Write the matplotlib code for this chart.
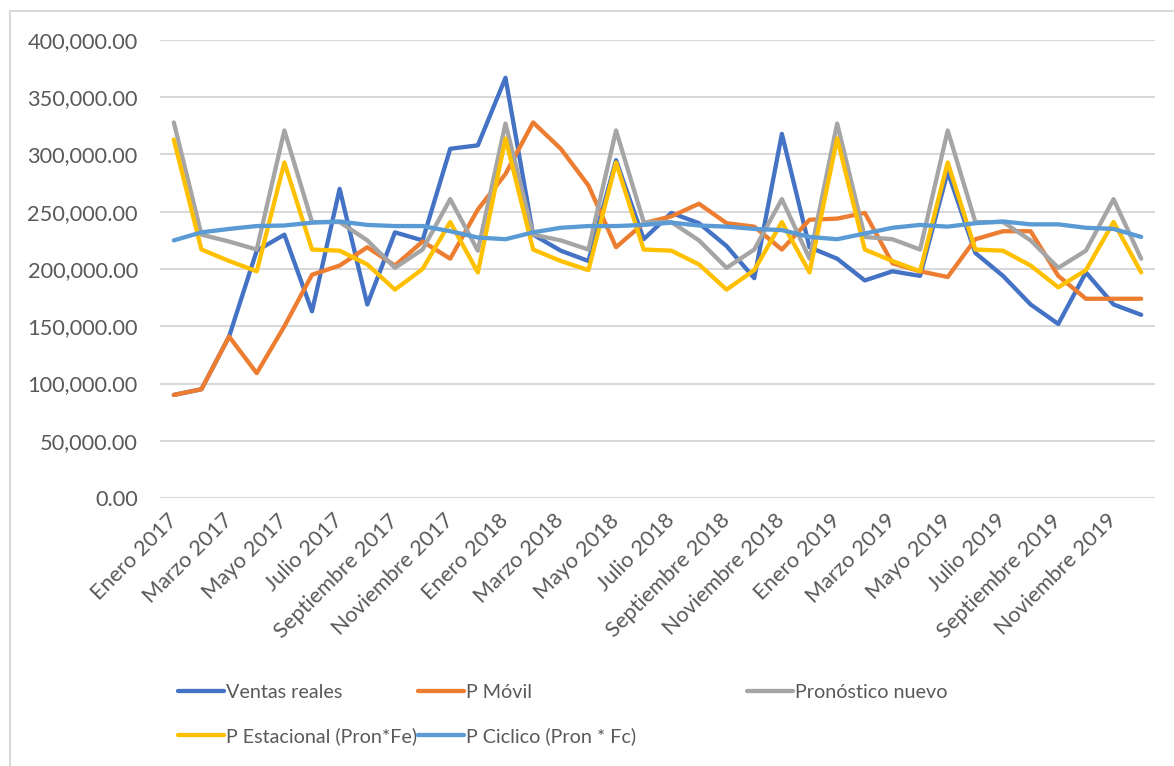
import matplotlib
matplotlib.use("Agg")
import matplotlib.pyplot as plt
from matplotlib.lines import Line2D
from matplotlib.ticker import FuncFormatter, MultipleLocator

# Monthly series, Enero 2017 .. Diciembre 2019
meses = ["Enero", "Febrero", "Marzo", "Abril", "Mayo", "Junio", "Julio",
         "Agosto", "Septiembre", "Octubre", "Noviembre", "Diciembre"]
anios = [2017, 2018, 2019]
periodos = [f"{m} {a}" for a in anios for m in meses]

ventas_reales = [90000, 95000, 141000, 216000, 230000, 163000, 270000, 169000,
                 232000, 225000, 305000, 308000, 367000, 230000, 216000, 207000,
                 295000, 226000, 249000, 240000, 220000, 192000, 318000, 219000,
                 209000, 190000, 198000, 194000, 285000, 214000, 194000, 169000,
                 152000, 197000, 169000, 160000]

p_movil = [90000, 95000, 141000, 109000, 150000, 195000, 203000, 219000,
           203000, 224000, 209000, 252000, 283000, 328000, 305000, 273000,
           219000, 240000, 246000, 257000, 240000, 237000, 217000, 243000,
           244000, 249000, 205000, 198000, 193000, 226000, 233000, 233000,
           194000, 174000, 174000, 174000]

pronostico_nuevo = [328000, 230000, 224000, 217000, 321000, 241000, 241000, 225000,
                    201000, 217000, 261000, 216000, 327000, 230000, 225000, 217000,
                    321000, 241000, 241000, 225000, 201000, 217000, 261000, 209000,
                    327000, 228000, 226000, 217000, 321000, 241000, 241000, 225000,
                    201000, 216000, 261000, 209000]

p_estacional = [313000, 217000, 207000, 198000, 293000, 217000, 216000, 204000,
                182000, 200000, 241000, 197000, 314000, 217000, 207000, 199000,
                293000, 217000, 216000, 204000, 182000, 199000, 241000, 197000,
                314000, 217000, 207000, 198000, 293000, 217000, 216000, 203000,
                184000, 199000, 241000, 197000]

p_ciclico = [225000, 232000, 235000, 237500, 238000, 240500, 241500, 238500,
             237500, 237500, 233000, 227500, 226000, 232000, 236000, 237500,
             237500, 238500, 240500, 238000, 237000, 235000, 234000, 228000,
             226000, 231000, 236000, 238500, 237000, 240000, 241500, 239000,
             239000, 236000, 235000, 228000]

series = [
    ("Ventas reales", ventas_reales, "#4472C4"),
    ("P Móvil", p_movil, "#ED7D31"),
    ("Pronóstico nuevo", pronostico_nuevo, "#A5A5A5"),
    ("P Estacional (Pron*Fe)", p_estacional, "#FFC000"),
    ("P Ciclico (Pron * Fc)", p_ciclico, "#5B9BD5"),
]

W, H = 1174, 766
TXT = "#595959"
FS_AX = 15.7
FS_LEG = 14.2
LW = 3.1
plt.rcParams["font.family"] = ["Lato", "DejaVu Sans"]

fig = plt.figure(figsize=(W / 100, H / 100), dpi=100)
ax = fig.add_axes([160 / W, (H - 498) / H, (1155 - 160) / W, (498 - 40) / H])

x = list(range(len(periodos)))
lines = {}
for name, vals, col in series:
    ln, = ax.plot(x, vals, color=col, lw=LW, label=name,
                  solid_joinstyle="round", solid_capstyle="round", zorder=3)
    lines[name] = ln

ax.set_xlim(-0.5, len(periodos) - 0.5)
ax.set_ylim(0, 400000)
ax.yaxis.set_major_locator(MultipleLocator(50000))
ax.yaxis.set_major_formatter(FuncFormatter(lambda v, p: f"{v:,.2f}"))
ax.grid(axis="y", color="#D9D9D9", lw=1.5, zorder=0)
ax.set_axisbelow(True)
for s in ax.spines.values():
    s.set_visible(False)

ax.set_xticks(x[::2])
ax.set_xticklabels(periodos[::2], rotation=45, ha="right", va="center",
                   rotation_mode="anchor", color=TXT, fontsize=FS_AX)
ax.tick_params(axis="x", length=0, pad=14)
ax.tick_params(axis="y", length=0, pad=16, labelcolor=TXT, labelsize=FS_AX)

# legend: two-column block plus the third column entry
common = dict(frameon=False, fontsize=FS_LEG, handlelength=2.35, handletextpad=0.1,
              borderpad=0, borderaxespad=0, labelcolor=TXT)
leg1 = fig.legend([lines["Ventas reales"], lines["P Estacional (Pron*Fe)"],
                   lines["P Móvil"], lines["P Ciclico (Pron * Fc)"]],
                  ["Ventas reales", "P Estacional (Pron*Fe)",
                   "P Móvil", "P Ciclico (Pron * Fc)"],
                  ncol=2, loc="upper left", bbox_to_anchor=(178 / W, 1 - 684 / H),
                  labelspacing=1.33, columnspacing=0.02, **common)
leg2 = fig.legend([lines["Pronóstico nuevo"]], ["Pronóstico nuevo"],
                  loc="upper left", bbox_to_anchor=(747 / W, 1 - 684 / H), **common)
for lg in (leg1, leg2):
    for h in lg.legend_handles:
        h.set_linewidth(LW)

# chart area border (left and top edges)
fig.add_artist(Line2D([10 / W, 10 / W], [0, 1 - 11 / H], transform=fig.transFigure,
                      color="#D9D9D9", lw=1.5))
fig.add_artist(Line2D([10 / W, 1], [1 - 11 / H, 1 - 11 / H], transform=fig.transFigure,
                      color="#D9D9D9", lw=1.5))

fig.savefig("out.png", dpi=100)
